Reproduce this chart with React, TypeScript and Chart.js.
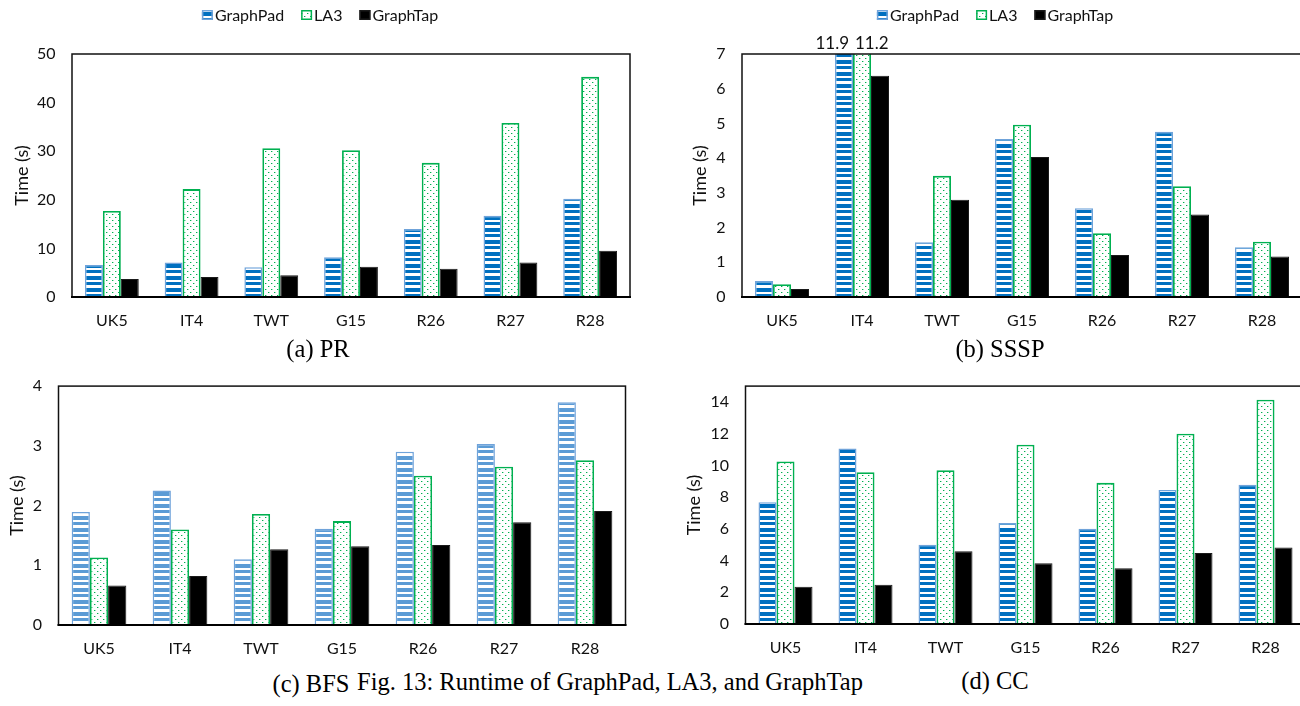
import React, { useEffect, useRef } from "react";
import { Chart, registerables } from "chart.js";

Chart.register(...registerables);

// ---------- data ----------
const categories = ["UK5", "IT4", "TWT", "G15", "R26", "R27", "R28"];
const seriesNames = ["GraphPad", "LA3", "GraphTap"];

const prGraphPad = [6.6, 7.1, 6.1, 8.2, 14.0, 16.7, 20.2];
const prLA3 = [17.7, 22.2, 30.6, 30.2, 27.6, 35.8, 45.3];
const prGraphTap = [3.7, 4.1, 4.5, 6.2, 5.8, 7.1, 9.5];
const prTicks = [0, 10, 20, 30, 40, 50];

const ssspGraphPad = [0.46, 11.9, 1.58, 4.55, 2.56, 4.76, 1.43];
const ssspLA3 = [0.37, 11.2, 3.49, 4.96, 1.84, 3.19, 1.59];
const ssspGraphTap = [0.23, 6.37, 2.8, 4.03, 1.21, 2.38, 1.17];
const ssspTicks = [0, 1, 2, 3, 4, 5, 6, 7];

const bfsGraphPad = [1.89, 2.25, 1.1, 1.61, 2.9, 3.03, 3.73];
const bfsLA3 = [1.13, 1.6, 1.86, 1.74, 2.5, 2.65, 2.76];
const bfsGraphTap = [0.66, 0.82, 1.27, 1.32, 1.34, 1.72, 1.91];
const bfsTicks = [0, 1, 2, 3, 4];

const ccGraphPad = [7.67, 11.07, 5.0, 6.37, 6.0, 8.45, 8.78];
const ccLA3 = [10.25, 9.57, 9.7, 11.3, 8.9, 12.0, 14.14];
const ccGraphTap = [2.35, 2.47, 4.58, 3.83, 3.52, 4.47, 4.82];
const ccTicks = [0, 2, 4, 6, 8, 10, 12, 14];

const yTitle = "Time (s)";
const captionA = "(a) PR";
const captionB = "(b) SSSP";
const captionC = "(c) BFS";
const captionD = "(d) CC";
const figCaption = "Fig. 13: Runtime of GraphPad, LA3, and GraphTap";

// ---------- styles ----------
const FONT = "Lato";
const TEXT = "#111111";
const DARK_BLUE = "#0070C0";
const LIGHT_BLUE = "#5B9BD5";
const GP_BORDER = "#6FA3DA";
const GREEN = "#00B050";

function makeStripes(color: string) {
  const c = document.createElement("canvas");
  c.width = 4;
  c.height = 12;
  const g = c.getContext("2d")!;
  g.fillStyle = "#ffffff";
  g.fillRect(0, 0, 4, 12);
  g.fillStyle = color;
  g.fillRect(0, 0, 4, 4);
  g.fillRect(0, 6, 4, 3);
  return g.createPattern(c, "repeat")!;
}

function makeDots() {
  const c = document.createElement("canvas");
  c.width = 6;
  c.height = 6;
  const g = c.getContext("2d")!;
  g.fillStyle = "#ffffff";
  g.fillRect(0, 0, 6, 6);
  g.fillStyle = GREEN;
  g.fillRect(1, 1, 1, 1);
  g.fillRect(4, 4, 1, 1);
  g.fillStyle = "rgba(0,176,80,0.35)";
  g.fillRect(2, 1, 1, 1);
  g.fillRect(5, 4, 1, 1);
  return g.createPattern(c, "repeat")!;
}

const framePlugin = {
  id: "frameBox",
  afterDatasetsDraw(chart: any) {
    const { ctx, chartArea: a } = chart;
    ctx.save();
    ctx.strokeStyle = "#111";
    ctx.lineWidth = 1.5;
    ctx.strokeRect(a.left, a.top, a.right - a.left, a.bottom - a.top);
    ctx.lineWidth = 2.2;
    ctx.strokeStyle = "#000";
    ctx.beginPath();
    ctx.moveTo(a.left - 1, a.bottom);
    ctx.lineTo(a.right + 1, a.bottom);
    ctx.stroke();
    ctx.restore();
  },
};

const overflowPlugin = {
  id: "overflowLabels",
  afterDatasetsDraw(chart: any) {
    const { ctx, chartArea } = chart;
    const max = chart.scales.y.max;
    ctx.save();
    ctx.font = `17px ${FONT}`;
    ctx.fillStyle = TEXT;
    ctx.textBaseline = "alphabetic";
    chart.data.datasets.forEach((ds: any, di: number) => {
      const meta = chart.getDatasetMeta(di);
      ds.data.forEach((v: number, i: number) => {
        if (v > max) {
          const bar = meta.data[i];
          const half = bar.width / 2;
          ctx.textAlign = di === 0 ? "right" : "left";
          const x = di === 0 ? bar.x + half - 4 : bar.x - half + 2;
          ctx.fillText(String(v), x, chartArea.top - 5);
        }
      });
    });
    ctx.restore();
  },
};

const legendPlugin = {
  id: "customLegend",
  afterDraw(chart: any) {
    const opts = chart.options.plugins.customLegend;
    if (!opts || !opts.show) return;
    const { ctx } = chart;
    ctx.save();
    ctx.font = `16px ${FONT}`;
    const boxW = 11;
    const boxH = 10;
    const gapText = 2;
    const itemGap = 17;
    const ds = chart.data.datasets;
    const widths = ds.map((d: any) => boxW + gapText + ctx.measureText(d.label).width);
    const total = widths.reduce((s: number, w: number) => s + w, 0) + itemGap * (ds.length - 1);
    let x = chart.width / 2 - total / 2;
    const cy = opts.y;
    ds.forEach((d: any, i: number) => {
      ctx.fillStyle = d.legendFill;
      ctx.fillRect(x, cy - boxH / 2, boxW, boxH);
      ctx.strokeStyle = d.borderColor;
      ctx.lineWidth = 1.5;
      ctx.strokeRect(x + 0.75, cy - boxH / 2 + 0.75, boxW - 1.5, boxH - 1.5);
      ctx.fillStyle = TEXT;
      ctx.textBaseline = "middle";
      ctx.textAlign = "left";
      ctx.fillText(d.label, x + boxW + gapText, cy + 1);
      x += widths[i] + itemGap;
    });
    ctx.restore();
  },
};

type PanelCfg = {
  x: number;
  y: number;
  w: number;
  h: number;
  pad: { left: number; top: number; right: number; bottom: number };
  yWidth: number;
  xHeight: number;
  titlePad: number;
  yMax: number;
  ticks: number[];
  values: number[][];
  lightStripes: boolean;
  legend: boolean;
};

function BarPanel({ cfg }: { cfg: PanelCfg }) {
  const ref = useRef<HTMLCanvasElement>(null);
  useEffect(() => {
    const stripes = makeStripes(cfg.lightStripes ? LIGHT_BLUE : DARK_BLUE);
    const legendStripes = makeStripes(DARK_BLUE);
    const dots = makeDots();
    const fills = [stripes, dots, "#000000"];
    const legendFills = [legendStripes, dots, "#000000"];
    const borders = [GP_BORDER, GREEN, "#1a1a1a"];
    const borderWidths = [1.5, 1.8, 1];
    const chart = new Chart(ref.current!, {
      type: "bar",
      data: {
        labels: categories,
        datasets: seriesNames.map((name, i) => ({
          label: name,
          data: cfg.values[i],
          backgroundColor: fills[i] as any,
          borderColor: borders[i],
          borderWidth: borderWidths[i],
          legendFill: legendFills[i],
          categoryPercentage: 0.675,
          barPercentage: 1,
        })) as any,
      },
      options: {
        animation: false,
        responsive: false,
        maintainAspectRatio: false,
        layout: { padding: cfg.pad },
        plugins: {
          legend: { display: false },
          tooltip: { enabled: false },
          customLegend: { show: cfg.legend, y: 15 },
        } as any,
        scales: {
          x: {
            grid: { display: false, drawTicks: false },
            border: { display: false },
            ticks: {
              font: { family: FONT, size: 16 },
              color: TEXT,
              padding: 14,
              maxRotation: 0,
              autoSkip: false,
            },
            afterFit: (s: any) => {
              s.height = cfg.xHeight;
            },
          },
          y: {
            min: 0,
            max: cfg.yMax,
            grid: { display: false, drawTicks: false },
            border: { display: false },
            ticks: { font: { family: FONT, size: 16 }, color: TEXT, padding: 16.5 },
            afterBuildTicks: (s: any) => {
              s.ticks = cfg.ticks.map((v) => ({ value: v }));
            },
            title: {
              display: true,
              text: yTitle,
              font: { family: FONT, size: 18 },
              color: TEXT,
              padding: { top: cfg.titlePad, bottom: 0 },
            },
            afterFit: (s: any) => {
              s.width = cfg.yWidth;
            },
          },
        },
      },
      plugins: [framePlugin, overflowPlugin, legendPlugin],
    });
    return () => chart.destroy();
  }, []);
  return (
    <canvas
      ref={ref}
      width={cfg.w}
      height={cfg.h}
      style={{ position: "absolute", left: cfg.x, top: cfg.y, width: cfg.w, height: cfg.h }}
    />
  );
}

const panels: PanelCfg[] = [
  {
    x: 0, y: 0, w: 640, h: 330,
    pad: { left: 0, top: 54, right: 10, bottom: 3 },
    yWidth: 72, xHeight: 30, titlePad: 11,
    yMax: 50, ticks: prTicks,
    values: [prGraphPad, prLA3, prGraphTap],
    lightStripes: false, legend: true,
  },
  {
    x: 675, y: 0, w: 640, h: 330,
    pad: { left: 0, top: 54, right: 13, bottom: 3 },
    yWidth: 67, xHeight: 30, titlePad: 14,
    yMax: 7, ticks: ssspTicks,
    values: [ssspGraphPad, ssspLA3, ssspGraphTap],
    lightStripes: false, legend: true,
  },
  {
    x: 0, y: 360, w: 640, h: 300,
    pad: { left: 0, top: 21, right: 14.5, bottom: 5 },
    yWidth: 58.5, xHeight: 30, titlePad: 6,
    yMax: 4, ticks: bfsTicks,
    values: [bfsGraphPad, bfsLA3, bfsGraphTap],
    lightStripes: true, legend: false,
  },
  {
    x: 675, y: 360, w: 640, h: 300,
    pad: { left: 0, top: 21, right: 9.5, bottom: 6 },
    yWidth: 70.5, xHeight: 30, titlePad: 8.5,
    yMax: 15, ticks: ccTicks,
    values: [ccGraphPad, ccLA3, ccGraphTap],
    lightStripes: false, legend: false,
  },
];

const captionStyle = (cx: number, cy: number): React.CSSProperties => ({
  position: "absolute",
  left: cx,
  top: cy,
  transform: "translate(-50%, -50%)",
  fontFamily: "'Liberation Serif', 'Times New Roman', serif",
  fontSize: 24.5,
  lineHeight: 1,
  whiteSpace: "nowrap",
  color: "#000",
});

export default function App() {
  return (
    <div
      style={{
        position: "absolute",
        left: 0,
        top: 0,
        width: 1300,
        height: 706,
        overflow: "hidden",
        background: "#ffffff",
      }}
    >
      {panels.map((p, i) => (
        <BarPanel key={i} cfg={p} />
      ))}
      <div style={captionStyle(318, 349)}>{captionA}</div>
      <div style={captionStyle(1000, 349)}>{captionB}</div>
      <div style={captionStyle(311, 684)}>{captionC}</div>
      <div style={captionStyle(995, 681)}>{captionD}</div>
      <div style={{ ...captionStyle(357, 682), transform: "translate(0, -50%)" }}>{figCaption}</div>
    </div>
  );
}
